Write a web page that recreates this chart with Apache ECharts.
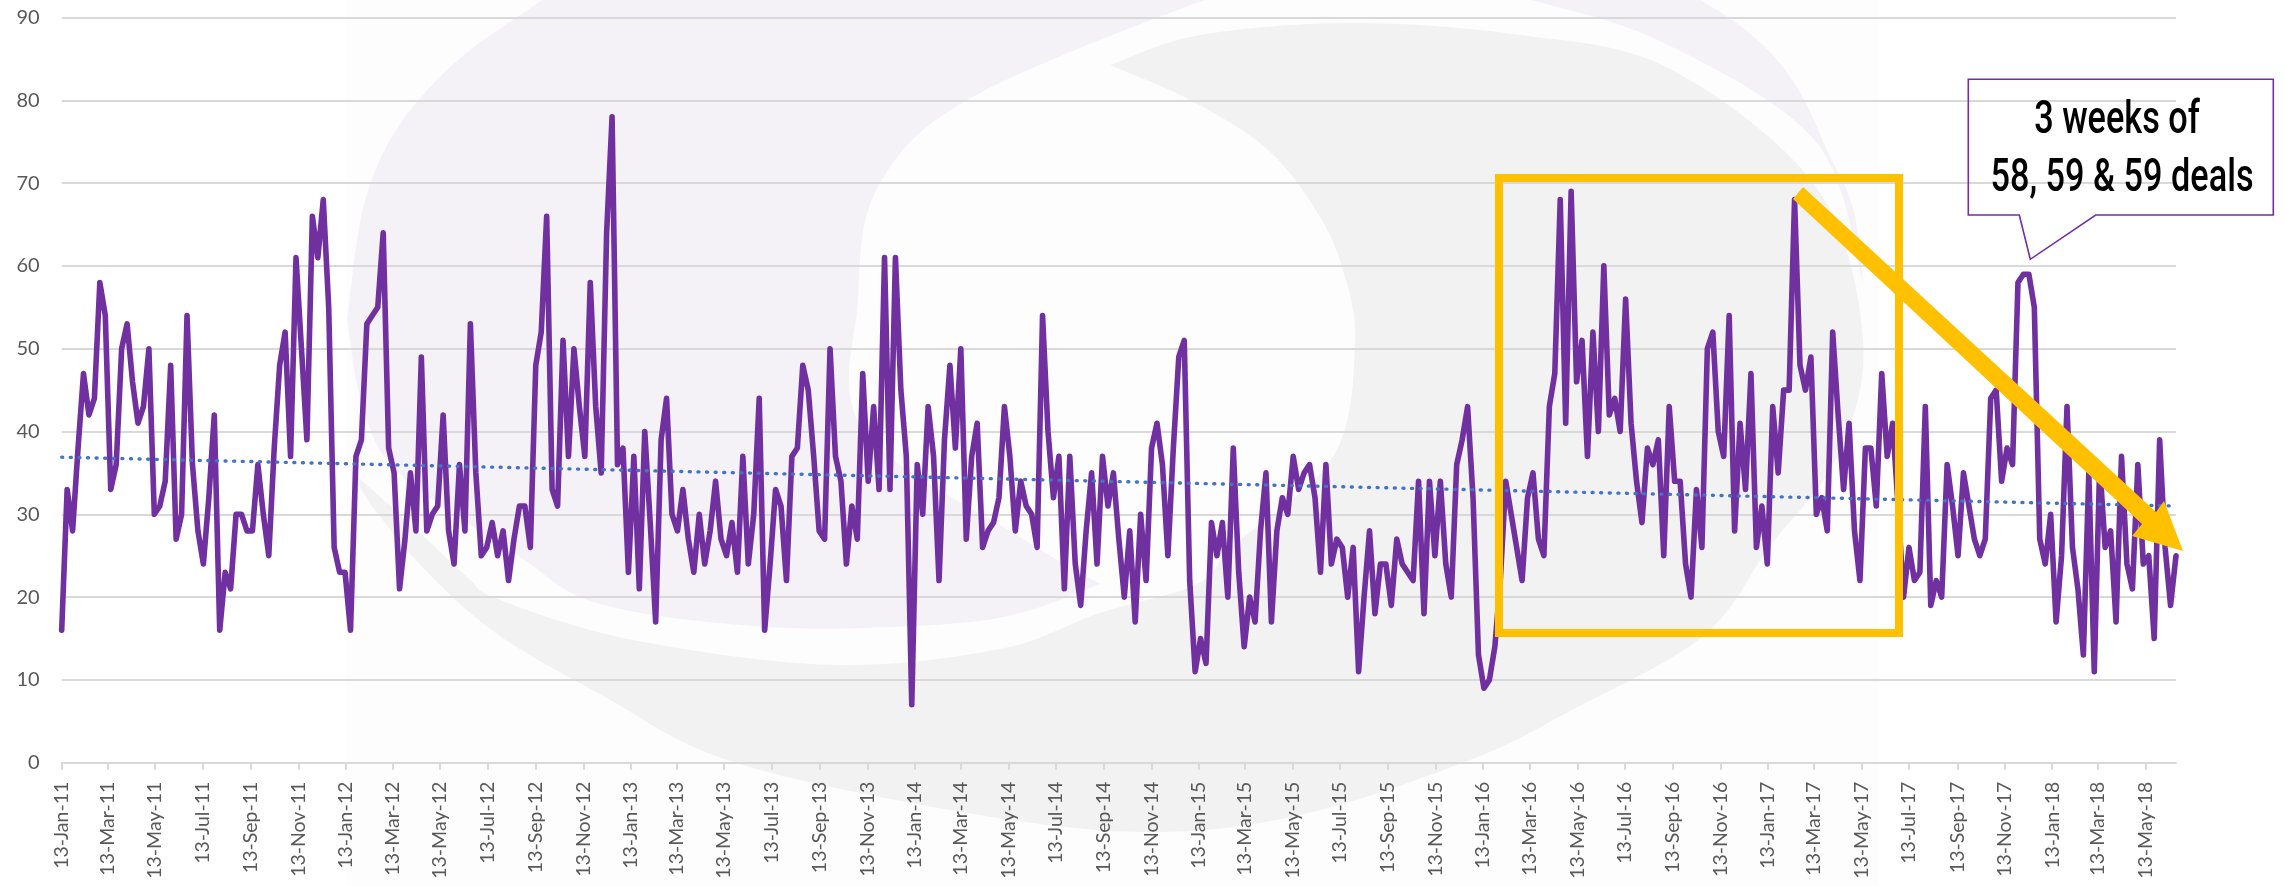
<!DOCTYPE html>
<html>
<head>
<meta charset="utf-8">
<script src="https://cdn.jsdelivr.net/npm/echarts@6/dist/echarts.min.js"></script>
<style>html,body{margin:0;padding:0;background:#fff}#c{width:2285px;height:886px}</style>
</head>
<body>
<div id="c"></div>
<script>
const firstWeek = '2011-01-13';
const dealsPerWeek = [
16,33,28,38,47,42,44,58,54,33,36,50,53,46,41,43,50,30,31,34,48,27,30,54,36,28,24,32,42,16,23,21,30,30,28,28,36,30,25,38,48,52,37,61,50,39,66,61,68,55,26,23,23,16,37,39,53,54,55,64,38,35,21,27,35,28,49,28,30,31,42,28,24,36,28,53,35,25,26,29,25,28,22,27,31,
31,26,48,52,66,33,31,51,37,50,43,37,58,43,35,64,78,36,38,23,37,21,40,29,17,39,44,30,28,33,27,23,30,24,28,34,27,25,29,23,37,24,30,44,16,24,33,31,22,37,38,48,45,37,28,27,50,37,34,24,31,27,47,34,43,33,61,33,61,45,37,7,36,30,43,37,22,39,48,38,50,27,37,41,26,28,29,32,43,37,28,34,
31,30,26,54,40,32,37,21,37,24,19,28,35,24,37,31,35,27,20,28,17,30,22,38,41,36,25,38,49,51,22,11,15,12,29,25,29,20,38,23,14,20,17,28,35,17,28,32,30,37,33,35,36,32,23,36,24,27,26,20,26,11,20,28,18,24,24,19,27,24,23,22,34,18,34,25,34,24,20,36,39,43,32,13,9,10,14,
22,34,30,26,22,32,35,27,25,43,47,68,41,69,46,51,37,52,40,60,42,44,40,56,41,34,29,38,36,39,25,43,34,34,24,20,33,26,50,52,40,37,54,28,41,33,47,26,31,24,43,35,45,45,68,48,45,49,30,32,28,52,42,33,41,28,22,38,
38,31,47,37,41,31,20,26,22,23,43,19,22,20,36,31,25,35,31,27,25,27,44,45,34,38,36,58,59,59,55,27,24,30,17,25,43,26,21,13,35,11,36,26,28,17,37,24,21,36,24,25,15,39,26,19,25
];
const trendEnds = [36.9, 31.0];
const tickLabels = [
'13-Jan-11','13-Mar-11','13-May-11','13-Jul-11','13-Sep-11','13-Nov-11',
'13-Jan-12','13-Mar-12','13-May-12','13-Jul-12','13-Sep-12','13-Nov-12',
'13-Jan-13','13-Mar-13','13-May-13','13-Jul-13','13-Sep-13','13-Nov-13',
'13-Jan-14','13-Mar-14','13-May-14','13-Jul-14','13-Sep-14','13-Nov-14',
'13-Jan-15','13-Mar-15','13-May-15','13-Jul-15','13-Sep-15','13-Nov-15',
'13-Jan-16','13-Mar-16','13-May-16','13-Jul-16','13-Sep-16','13-Nov-16',
'13-Jan-17','13-Mar-17','13-May-17','13-Jul-17','13-Sep-17','13-Nov-17',
'13-Jan-18','13-Mar-18','13-May-18'
];
const calloutLines = ['3 weeks of', '58, 59 & 59 deals'];

const DAY = 86400000;
const MONTHS = {Jan:0,Feb:1,Mar:2,Apr:3,May:4,Jun:5,Jul:6,Aug:7,Sep:8,Oct:9,Nov:10,Dec:11};
const parseTick = s => { const p = s.split('-'); return Date.UTC(2000 + +p[2], MONTHS[p[1]], +p[0]); };
const t0 = Date.parse(firstWeek + 'T00:00:00Z');
const weeks = dealsPerWeek.map((_, i) => t0 + i * 7 * DAY);
const tickValues = tickLabels.map(parseTick);
const labelByTime = {};
tickValues.forEach((v, i) => { labelByTime[v] = tickLabels[i]; });
const tEnd = weeks[weeks.length - 1];

// watermark outline: sampled Catmull-Rom through hand-placed outline knots
function run(pts) {
  const out = [];
  for (let i = 0; i < pts.length - 1; i++) {
    const p0 = pts[Math.max(i - 1, 0)], p1 = pts[i], p2 = pts[i + 1], p3 = pts[Math.min(i + 2, pts.length - 1)];
    for (let k = 0; k < 16; k++) {
      const t = k / 16, t2 = t * t, t3 = t2 * t;
      const f = j => 0.5 * (2 * p1[j] + (p2[j] - p0[j]) * t + (2 * p0[j] - 5 * p1[j] + 4 * p2[j] - p3[j]) * t2 + (3 * p1[j] - p0[j] - 3 * p2[j] + p3[j]) * t3);
      out.push([f(0), f(1)]);
    }
  }
  out.push(pts[pts.length - 1]);
  return out;
}
const lavender = run([[347,320],[367,194],[417,102],[520,15],[760,-120],[1200,-180],[1700,0],[1837,170],[1863,283]])
  .concat(run([[1100,584],[1020,613],[933,625],[767,627],[600,604],[517,555],[400,474],[363,408],[347,320]]));
const whiteBlob = run([[1100,584],[1020,537],[863,430],[858,300],[877,189],[967,100],[1205,0],[1350,-40],[1531,0],[1668,45],[1816,142],[1863,283]]);
const grayCrescent = run([[1110,65],[1200,35],[1353,23],[1520,35],[1668,68],[1816,187],[1863,340],[1837,457],[1770,546],[1703,636],[1570,711],[1470,760],[1300,815],[1142,832],[950,810],[727,760],[600,694],[500,636],[430,575],[375,510],[350,470]])
  .concat(run([[350,470],[417,530],[467,577],[500,600],[633,640],[833,665],[1000,649],[1100,613],[1197,584],[1233,546],[1333,457],[1355,345],[1343,270],[1317,212],[1267,149],[1190,100],[1110,65]]));

const gold = '#FFC000', purple = '#7030A0', ink = '#595959', rule = '#D9D9D9';

const chart = echarts.init(document.getElementById('c'), null, {renderer:'canvas'});
chart.setOption({
  animation:false,
  backgroundColor:'#ffffff',
  grid:{left:61.7, right:109, top:17.5, bottom:123.3, containLabel:false},
  xAxis:{
    type:'value', min:t0, max:tEnd, scale:true,
    axisLine:{show:true, onZero:false, lineStyle:{color:rule, width:2}},
    axisTick:{show:true, length:7, lineStyle:{color:rule, width:2}, customValues:tickValues},
    axisLabel:{rotate:90, margin:19, color:ink, fontFamily:'Lato', fontSize:19.5, customValues:tickValues,
      hideOverlap:false, showMinLabel:true, showMaxLabel:true,
      formatter:v => labelByTime[v] || ''},
    splitLine:{show:false}
  },
  yAxis:{
    type:'value', min:0, max:90, interval:10,
    axisLine:{show:false}, axisTick:{show:false},
    axisLabel:{margin:22, color:ink, fontFamily:'Lato', fontSize:20},
    splitLine:{lineStyle:{color:rule, width:2}}
  },
  series:[
    {name:'Deals per week', type:'line', symbol:'none', z:3,
     data:weeks.map((t, i) => [t, dealsPerWeek[i]]),
     lineStyle:{color:purple, width:5.6, join:'round', cap:'round'}},
    {name:'Trend', type:'line', symbol:'none', z:4,
     data:[[t0, trendEnds[0]], [tEnd, trendEnds[1]]],
     lineStyle:{color:'#4472C4', width:3.4, type:[1, 7.6], cap:'round'}}
  ],
  graphic:{elements:[
    {type:'rect', silent:true, z:-10, shape:{x:347, y:0, width:1532, height:886}, style:{fill:'#fdfdfd'}},
    {type:'polygon', silent:true, z:-9, shape:{points:lavender}, style:{fill:'#f4f2f7'}},
    {type:'polygon', silent:true, z:-8, shape:{points:whiteBlob}, style:{fill:'#fdfdfd'}},
    {type:'polygon', silent:true, z:-7, shape:{points:grayCrescent}, style:{fill:'#f2f2f3'}},
    {type:'rect', silent:true, z:20, shape:{x:1499, y:178, width:400, height:455}, style:{fill:'none', stroke:gold, lineWidth:8}},
    {type:'polygon', silent:true, z:21, shape:{points:[[1803,187],[2156,512],[2164,501],[2183,551],[2132,536],[2142,524],[1793,199]]}, style:{fill:gold}},
    {type:'polygon', silent:true, z:22, shape:{points:[[1968.3,79.3],[2273.3,79.3],[2273.3,215],[2095.7,215],[2030.3,259.3],[2019.3,215],[1968.3,215]]}, style:{fill:'none', stroke:purple, lineWidth:1.6}},
    {type:'text', silent:true, z:23, x:2117, y:121, scaleX:0.745, style:{text:calloutLines[0], x:0, y:0, align:'center', verticalAlign:'middle', fontFamily:'Roboto', fontWeight:500, fontSize:46, fill:'#000'}},
    {type:'text', silent:true, z:23, x:2122, y:179, scaleX:0.745, style:{text:calloutLines[1], x:0, y:0, align:'center', verticalAlign:'middle', fontFamily:'Roboto', fontWeight:500, fontSize:46, fill:'#000'}}
  ]}
});
</script>
</body>
</html>
